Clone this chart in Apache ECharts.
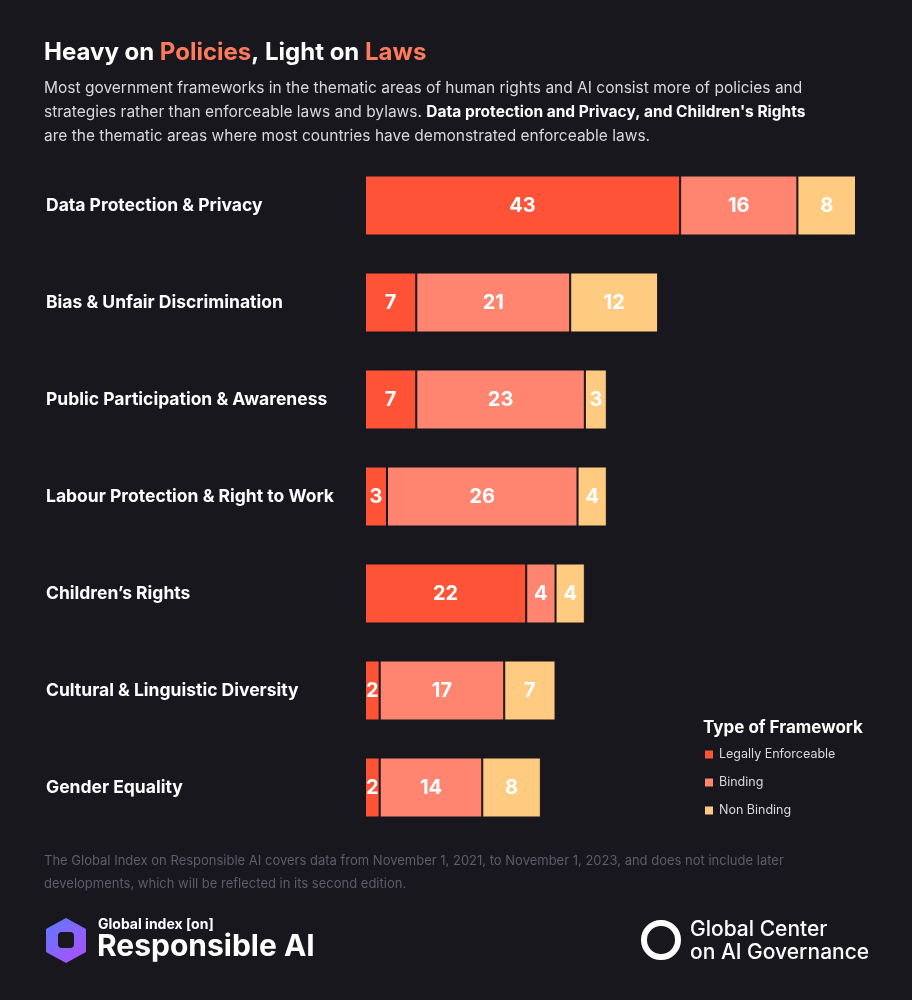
<!DOCTYPE html>
<html><head><meta charset="utf-8">
<script src="https://cdn.jsdelivr.net/npm/echarts@6/dist/echarts.min.js"></script>
<style>html,body{margin:0;background:#17171d}#c{width:912px;height:1000px}</style>
</head><body><div id="c"></div>
<script>
const categories = ["Data Protection & Privacy","Bias & Unfair Discrimination","Public Participation & Awareness","Labour Protection & Right to Work","Children’s Rights","Cultural & Linguistic Diversity","Gender Equality"];
const legallyEnforceable = [43,7,7,3,22,2,2];
const binding = [16,21,23,26,4,17,14];
const nonBinding = [8,12,3,4,4,7,8];
const seriesNames = ["Legally Enforceable","Binding","Non Binding"];
const colors = ["#ff5338","#ff8571","#ffcb80"];

const chart = echarts.init(document.getElementById('c'));
const F = "Inter, 'Noto Sans', sans-serif";
function mk(name, data, color){
  return {name, type:'bar', stack:'t', data, barWidth:60,
    itemStyle:{color, borderColor:'#17171d', borderWidth:1},
    label:{show:true, position:'inside', color:'#fff', fontSize:20, fontWeight:'bold', fontFamily:F}};
}
chart.setOption({
  backgroundColor:'#17171d',
  textStyle:{fontFamily:F},
  title:[{left:39, top:36, text:'{a|Heavy on }{b|Policies}{a|, Light on }{b|Laws}',
    textStyle:{rich:{a:{color:'#fff',fontSize:24,fontWeight:'bold',fontFamily:F},b:{color:'#ff7a5c',fontSize:24,fontWeight:'bold',fontFamily:F}}}},
   {left:39, top:71, text:'{n|Most government frameworks in the thematic areas of human rights and AI consist more of policies and}\n{n|strategies rather than enforceable laws and bylaws. }{b|Data protection and Privacy, and Children\'s Rights}\n{n|are the thematic areas where most countries have demonstrated enforceable laws.}',
    textStyle:{fontWeight:'normal', rich:{n:{color:'#d8d8de',fontSize:15.5,fontWeight:'normal',lineHeight:24,fontFamily:F},b:{color:'#fff',fontSize:15.5,fontWeight:'bold',lineHeight:24,fontFamily:F}}}},
   {left:698, top:714, text:'Type of Framework', textStyle:{color:'#fff',fontSize:17,fontWeight:'bold',fontFamily:F}},
   {left:39, top:845, text:'The Global Index on Responsible AI covers data from November 1, 2021, to November 1, 2023, and does not include later\ndevelopments, which will be reflected in its second edition.',
    textStyle:{color:'#5d5d6e',fontSize:13,lineHeight:23,fontWeight:'normal',fontFamily:F}}],
  legend:{orient:'vertical', left:698, top:743, itemWidth:10, itemHeight:10, itemGap:15, icon:'rect',
    data:seriesNames, textStyle:{color:'#d8d8de',fontSize:12.5,fontFamily:F}},
  grid:{left:365, right:34, top:157, bottom:164},
  xAxis:{type:'value', min:0, max:70, show:false},
  yAxis:{type:'category', data:categories, inverse:true, axisLine:{show:false}, axisTick:{show:false},
    axisLabel:{color:'#fff', fontSize:17.5, fontWeight:'bold', align:'left', margin:319, fontFamily:F}},
  series:[mk(seriesNames[0],legallyEnforceable,colors[0]),mk(seriesNames[1],binding,colors[1]),mk(seriesNames[2],nonBinding,colors[2])],
  graphic:[
    {type:'polygon', shape:{points:[[66,918],[86,929],[86,952],[66,963],[46,952],[46,929]]},
      style:{fill:new echarts.graphic.LinearGradient(0,0,1,1,[{offset:0,color:'#5b7cff'},{offset:1,color:'#b04cff'}])}},
    {type:'rect', shape:{x:58,y:932,width:16,height:16,r:4}, style:{fill:'#17171d'}},
    {type:'text', left:98, top:918, style:{text:'Global index [on]', fill:'#fff', font:'bold 14px '+F}},
    {type:'text', left:97, top:932, style:{text:'Responsible AI', fill:'#fff', font:'bold 30px '+F}},
    {type:'circle', shape:{cx:661,cy:940,r:17}, style:{fill:'none', stroke:'#fff', lineWidth:6}},
    {type:'text', left:690, top:918, style:{text:'Global Center\non AI Governance', fill:'#fff', font:'500 21px '+F, lineHeight:23}}
  ]
});
</script></body></html>
